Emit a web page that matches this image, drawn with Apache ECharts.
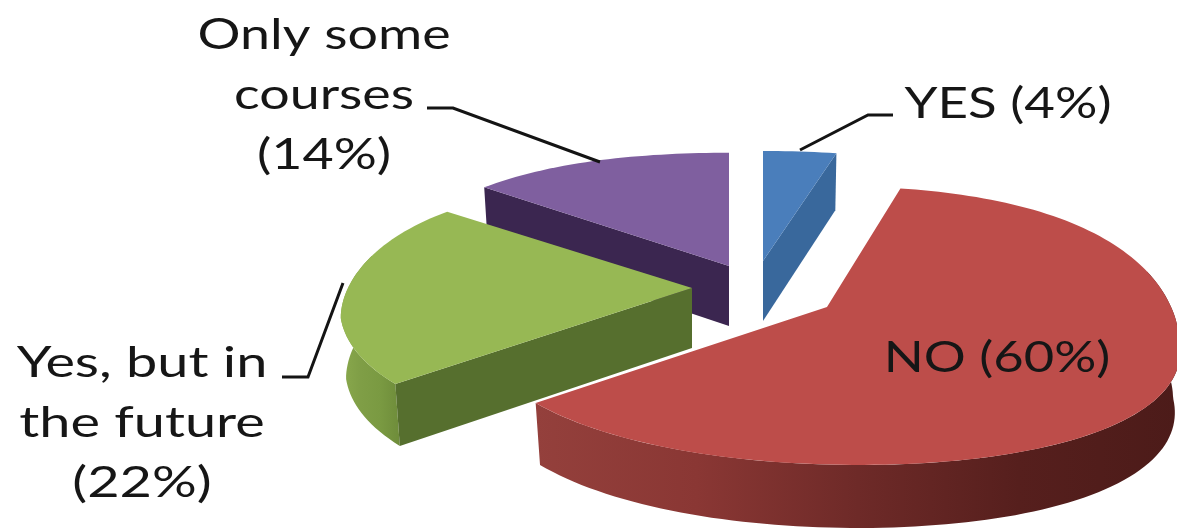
<!DOCTYPE html>
<html>
<head>
<meta charset="utf-8">
<style>html,body{margin:0;padding:0;background:#fff}#chart{width:1177px;height:530px}</style>
<script src="https://cdn.jsdelivr.net/npm/echarts@6/dist/echarts.min.js"></script>
</head>
<body>
<div id="chart"></div>
<script>
// Survey answers, clockwise from twelve o'clock
const answers = ['YES', 'NO', 'Yes, but in the future', 'Only some courses'];
const shares = [4, 60, 22, 14];
const labelLines = [
  ['YES (4%)'],
  ['NO (60%)'],
  ['Yes, but in', 'the future', '(22%)'],
  ['Only some', 'courses', '(14%)']
];

// Slice appearance
const topColors = ['#4a7ebb', '#bd4d4a', '#97b854', '#7f5f9f'];
const wallColors = ['#39689c', '#6e2a28', '#566f2e', '#3b2650'];
const stacking = [10, 40, 30, 20];

// Tilted disc geometry: apex of each exploded slice and the projection terms
const apexes = [[763, 261], [827, 307], [692, 288], [729, 266]];
const skews = [0, 0.25, 0.17, 0];
const farStretch = [1, 1.1, 1, 1.03];
const RX = 344, RY = 129.7, PERSPECTIVE = 0.179, THICKNESS = 60, BULGE = 0.03;

// Text placement: centre x and first line centre y, per slice
const labelAnchors = [[1008, 104], [997, 358], [142, 363], [324, 35]];
const labelStretch = [1.26, 1.25, 1.33, 1.28];
const LINE_STEP = 60;
const leaders = [
  [[800, 150], [868, 115], [893, 115]],
  [],
  [[282, 377], [308, 377], [343, 283]],
  [[427, 108], [453, 108], [600, 162]]
];

const total = shares.reduce((a, b) => a + b, 0);

function rimPoint(i, deg, lower) {
  const t = deg * Math.PI / 180;
  const c = Math.sin(t), s = -Math.cos(t);
  const w = 1 - PERSPECTIVE * s;
  const round = 1 + BULGE * Math.pow(Math.sin(2 * t), 2);
  let x = RX * c / w * round;
  let y = RY * s / w * round;
  if (y < 0) y *= farStretch[i];
  x += skews[i] * Math.max(y - 30, 0);
  if (lower) {
    return [apexes[i][0] + x * 0.985, apexes[i][1] + y + THICKNESS * (1 + 0.05 * s)];
  }
  return [apexes[i][0] + x, apexes[i][1] + y];
}

function arc(i, from, to, lower) {
  const pts = [];
  const n = Math.max(2, Math.ceil(Math.abs(to - from) / 1.5));
  for (let k = 0; k <= n; k++) pts.push(rimPoint(i, from + (to - from) * k / n, lower));
  return pts;
}

function hGrad(stops) {
  return new echarts.graphic.LinearGradient(0, 0, 1, 0, stops.map((c, k) => ({ offset: k / (stops.length - 1), color: c })));
}

function renderSlice(params, api) {
  const i = params.dataIndex;
  const before = shares.slice(0, i).reduce((a, b) => a + b, 0);
  const start = before / total * 360;
  const end = (before + api.value(0)) / total * 360;
  const apex = apexes[i];
  const lowApex = [apex[0], apex[1] + THICKNESS];
  const z = stacking[i];
  const children = [];
  const poly = (points, fill, order) => children.push({
    type: 'polygon', shape: { points }, style: { fill, stroke: null }, z2: z + order
  });

  // Walls facing the viewer
  if (i === 0) {
    poly([apex, rimPoint(i, end), rimPoint(i, end, true), lowApex], wallColors[i], 0);
  } else if (i === 1) {
    const from = 75;
    const wall = arc(i, from, end).concat(arc(i, end, from, true));
    poly(wall, hGrad(['#94403c', '#8a3734', '#6e2a28', '#561f1d', '#4c1b19']), 0);
  } else if (i === 2) {
    const wall = arc(i, start, 285).concat(arc(i, 285, start, true));
    poly(wall, hGrad(['#8aa94d', '#7f9e46', '#7a9a42', '#6e8c3a']), 0);
    poly([apex, rimPoint(i, start), rimPoint(i, start, true), lowApex], wallColors[i], 1);
  } else {
    poly([apex, rimPoint(i, start), rimPoint(i, start, true), lowApex], wallColors[i], 0);
  }

  // Top face
  poly([apex].concat(arc(i, start, end)), topColors[i], 2);

  // Leader line
  if (leaders[i].length) {
    children.push({
      type: 'polyline', shape: { points: leaders[i] },
      style: { stroke: '#141414', lineWidth: 3, fill: null }, z2: 60
    });
  }

  // Label text
  labelLines[i].forEach((line, k) => {
    children.push({
      type: 'text', x: labelAnchors[i][0], y: labelAnchors[i][1] + k * LINE_STEP,
      scaleX: labelStretch[i], z2: 70,
      style: {
        text: line, fill: '#161616', font: '42px Lato, sans-serif',
        align: 'center', verticalAlign: 'middle'
      }
    });
  });

  return { type: 'group', children };
}

const chart = echarts.init(document.getElementById('chart'), null, { renderer: 'canvas' });
chart.setOption({
  animation: false,
  backgroundColor: '#ffffff',
  series: [{
    type: 'custom',
    coordinateSystem: 'none',
    renderItem: renderSlice,
    silent: true,
    data: shares.map((v, i) => ({ name: answers[i], value: [v] }))
  }]
});
</script>
</body>
</html>
